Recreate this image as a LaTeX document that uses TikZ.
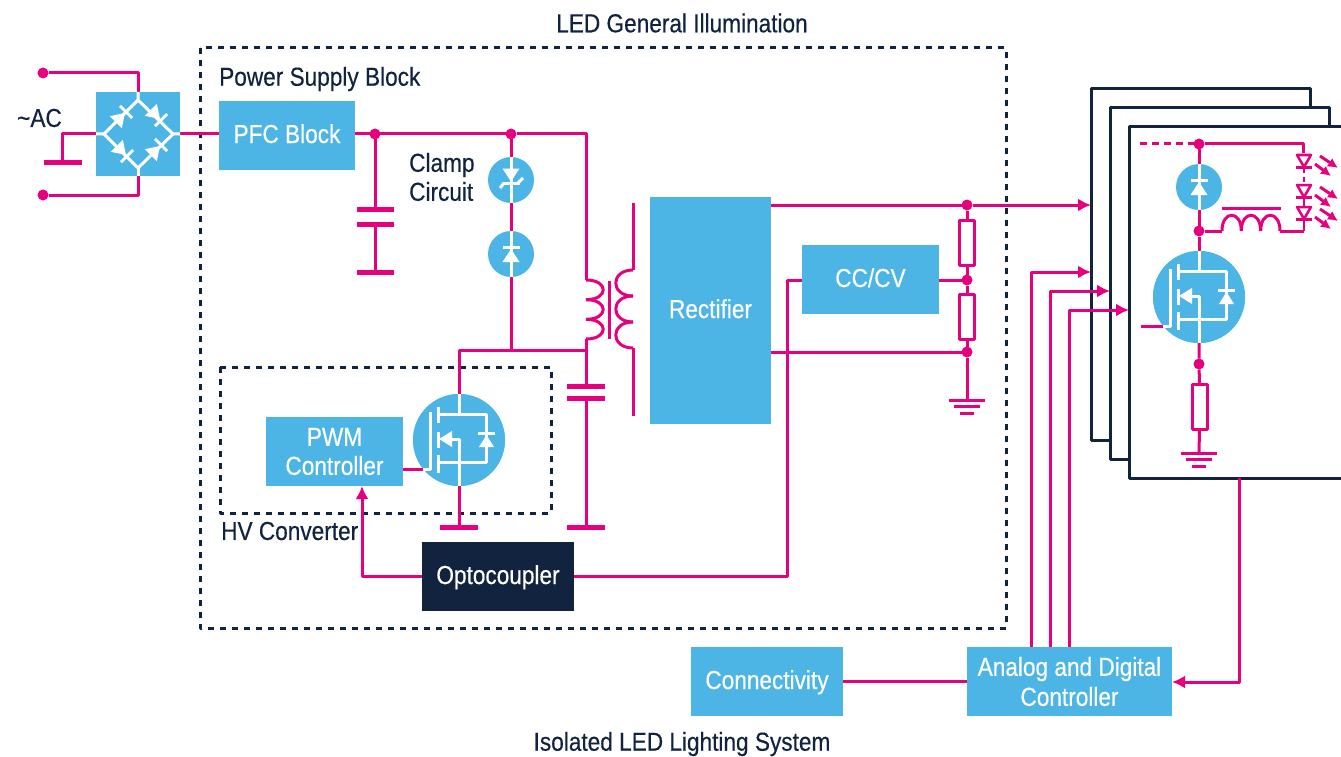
\documentclass[tikz,border=0pt]{standalone}
\usepackage{fontspec}
\setmainfont[FakeStretch=0.87,FakeBold=0.4]{Liberation Sans}
\usetikzlibrary{arrows.meta, calc}
\definecolor{stpink}{HTML}{E6007E}
\definecolor{stblue}{HTML}{4DB5E6}
\definecolor{stnavy}{HTML}{12233F}
\tikzset{
  wire/.style={stpink,line width=3pt},
  arrowwire/.style={wire,-{Latex[length=13pt,width=13pt]}},
  dashbox/.style={stnavy,line width=3pt,dash pattern=on 6pt off 6pt},
  boardline/.style={stnavy,line width=3pt},
  plate/.style={stpink,line width=5pt},
  dotnode/.style={circle,fill=stpink,minimum size=11pt,inner sep=0pt,outer sep=0pt},
  blockbox/.style={fill=stblue,text=white,align=center,inner sep=0pt,outer sep=0pt},
  oneline/.style={blockbox,text height=21pt,text depth=6pt},
  bubble/.style={circle,fill=stblue,minimum size=46pt,inner sep=0pt,outer sep=0pt},
  resbox/.style={draw=stpink,line width=3pt,fill=white,minimum width=15pt,minimum height=45pt,inner sep=0pt,outer sep=0pt},
  labeltext/.style={text=stnavy,align=left,inner sep=0pt},
  whiteline/.style={white,line width=3pt},
  mosfet/.pic={
    \fill[stblue] (0,0) circle (46);
    \draw[whiteline] (-29,-28) -- (-29,29) -- (-36,29);
    \draw[whiteline] (-21,-33) -- (-21,-17);
    \draw[whiteline] (-21,-8) -- (-21,8);
    \draw[whiteline] (-21,15) -- (-21,33);
    \draw[whiteline] (0,-46) -- (0,-26);
    \draw[whiteline] (-21,-26) -- (27,-26) -- (27,22) -- (-21,22);
    \draw[whiteline] (0,46) -- (0,-1) -- (-12,-1);
    \fill[white] (-20,-1) -- (-7,-9) -- (-7,7) -- cycle;
    \draw[whiteline] (19,-7) -- (36,-7);
    \fill[white] (27.5,-5) -- (35,7) -- (20,7) -- cycle;
  },
  diodetip/.pic={
    \fill[white] (0,0) -- (-13,-8.5) -- (-13,8.5) -- cycle;
    \draw[whiteline] (1.5,-8.5) -- (1.5,8.5);
  },
  groundsym/.pic={
    \draw[stpink,line width=3pt] (-18,0) -- (18,0);
    \draw[stpink,line width=3pt] (-13,6) -- (13,6);
    \draw[stpink,line width=3pt] (-7,13) -- (7,13);
  },
  bar/.pic={
    \draw[plate] (-19,0) -- (19,0);
  },
  every node/.style={font=\fontsize{26}{29}\selectfont}
}
\begin{document}
\begin{tikzpicture}[x=1pt,y=-1pt,line join=round]
  \useasboundingbox (0,0) rectangle (1341,757);
  \node[labeltext] (title) at (682,23) {LED General Illumination};
  \node[labeltext] (bottomtitle) at (682,744) {Isolated LED Lighting System};
  \node[labeltext,anchor=west] (supplylabel) at (219,79) {Power Supply Block};
  \node[labeltext,anchor=west] (hvlabel) at (221,531) {HV Converter};
  \node[labeltext,anchor=west] (clamplabel) at (409,177) {Clamp\\Circuit};
  \node[labeltext,anchor=west] (aclabel) at (17,118) {\textasciitilde AC};
  \draw[dashbox] (200,48) rectangle (1006,628);
  \draw[dashbox] (220,367) rectangle (551,513);

  \node[blockbox,minimum width=84pt,minimum height=84pt] (bridge) at (138,134) {};
  \node[oneline,minimum width=136pt,minimum height=69pt] (pfc) at (287,135.5) {PFC Block};
  \node[oneline,minimum width=121pt,minimum height=227pt] (rectifier) at (710.5,310.5) {Rectifier};
  \node[oneline,minimum width=137pt,minimum height=69pt] (ccv) at (870.5,279.5) {CC/CV};
  \node[blockbox,minimum width=137pt,minimum height=69pt] (pwm) at (334.5,451.5) {PWM\\Controller};
  \node[oneline,fill=stnavy,minimum width=152pt,minimum height=69pt] (opto) at (498,576.5) {Optocoupler};
  \node[oneline,minimum width=152pt,minimum height=69pt] (conn) at (767,681.5) {Connectivity};
  \node[blockbox,minimum width=205pt,minimum height=69pt] (ctrl) at (1069.5,681.5) {Analog and Digital\\[1pt]Controller};
  \node[bubble] (zener) at (511,180) {};
  \node[bubble] (clampdiode) at (511,254) {};
  \node[bubble,minimum size=92pt] (sw) at (459,440) {};
  \node[resbox] (rtop) at (967,243) {};
  \node[resbox] (rlow) at (967,316.5) {};

  \draw[boardline,fill=white] (1091,89) rectangle (1310,440);
  \node[minimum width=219pt,minimum height=351pt,inner sep=0pt,outer sep=0pt] (boarda) at (1200.5,264.5) {};
  \draw[boardline,fill=white] (1110,108) rectangle (1329,459);
  \node[minimum width=219pt,minimum height=351pt,inner sep=0pt,outer sep=0pt] (boardb) at (1219.5,283.5) {};
  \node[fill=white,minimum width=212pt,minimum height=351pt,inner sep=0pt,outer sep=0pt] (boardc) at (1235,302.5) {};
  \draw[boardline] (boardc.north east) -- (boardc.north west) -- (boardc.south west) -- (boardc.south east);

  \node[dotnode] (acup) at (43,73) {};
  \node[dotnode] (acdown) at (43,195) {};
  \node[dotnode] (capjoin) at (375,134) {};
  \node[dotnode] (clampjoin) at (511,134) {};
  \node[dotnode] (outjoin) at (967,205) {};
  \node[dotnode] (divjoin) at (967,280) {};
  \node[dotnode] (retjoin) at (967,352) {};
  \coordinate (acbar) at (62,162);
  \coordinate (pritop) at (586,280);
  \coordinate (pribot) at (586,339);
  \coordinate (midjoin) at (586,350);
  \coordinate (clampfoot) at (511,350);
  \coordinate (capfoot) at (586,527);
  \coordinate (swfoot) at (459,527);
  \coordinate (swgate) at (423,469);
  \coordinate (gnda) at (967,400);
  \coordinate (ina) at (1031,272);
  \coordinate (inb) at (1050,291);
  \coordinate (inc) at (1069,310);

  \draw[wire] (acup) -| (bridge.north);
  \draw[wire] (acdown) -| (bridge.south);
  \draw[wire] (bridge.west) -| (acbar);
  \draw[wire] (bridge.east) -- (bridge.east -| pfc.west);
  \draw[wire] (capjoin -| pfc.east) -- (clampjoin) -- (clampjoin -| pritop) -- (pritop);
  \draw[wire] (clampjoin) -- (zener.north);
  \draw[wire] (zener.south) -- (clampdiode.north);
  \draw[wire] (clampdiode.south) -- (clampfoot);
  \draw[wire] (sw.north) |- (midjoin);
  \draw[wire] (pribot) -- (midjoin) -- (586,386);
  \draw[wire] (586,398) -- (capfoot);
  \draw[wire] (sw.south) -- (swfoot);
  \draw[wire] (pwm.east |- swgate) -- (swgate);
  \draw[wire] (capjoin) -- (375,209);
  \draw[wire] (375,224) -- (375,272);
  \draw[wire] (633,203) -- (633,270);
  \draw[wire] (633,348) -- (633,416);
  \draw[wire] (609,281) -- (609,339);
  \foreach \i in {0,1,2}{
    \draw[wire] (586,280+\i*19.67) .. controls (609,280+\i*19.67) and (609,299.67+\i*19.67) .. (586,299.67+\i*19.67);
    \draw[wire] (633,270+\i*26) .. controls (610,270+\i*26) and (610,296+\i*26) .. (633,296+\i*26);
  }
  \draw[plate] (357,209) -- (394,209);
  \draw[plate] (357,224) -- (394,224);
  \draw[plate] (357,272) -- (394,272);
  \draw[plate] (44,162) -- (82,162);
  \draw[plate] (567,386) -- (605,386);
  \draw[plate] (567,398) -- (605,398);
  \pic at (capfoot) {bar};
  \pic at (swfoot) {bar};

  \draw[wire] (rectifier.east |- outjoin) -- (outjoin);
  \draw[arrowwire] (outjoin) -- (outjoin -| boarda.west);
  \draw[wire] (rectifier.east |- retjoin) -- (retjoin);
  \draw[wire] (outjoin) -- (rtop.north);
  \draw[wire] (rtop.south) -- (divjoin) -- (rlow.north);
  \draw[wire] (rlow.south) -- (retjoin) -- (gnda);
  \draw[wire] (ccv.east |- divjoin) -- (divjoin);
  \pic at (gnda) {groundsym};
  \draw[wire] (ccv.west |- divjoin) -- (787,280) -- (787,576) -- (opto.east |- 787,576);
  \draw[arrowwire] (opto.west |- 362,576) -- (362,576) -- (362,486);
  \draw[wire] (conn.east |- ctrl.west) -- (ctrl.west);
  \draw[arrowwire] (1239,478) -- (1239,682) -- (ctrl.east |- 1239,682);
  \draw[arrowwire] (ctrl.north -| inc) -- (inc) -- (inc -| boardc.west);
  \draw[arrowwire] (ctrl.north -| inb) -- (inb) -- (inb -| boardb.west);
  \draw[arrowwire] (ctrl.north -| ina) -- (ina) -- (ina -| boarda.west);

  \pic at (sw) {mosfet};
  \draw[whiteline] (bridge.north) -- (138,100) -- (173,134) -- (bridge.east);
  \draw[whiteline] (bridge.west) -- (104,134) -- (138,100);
  \draw[whiteline] (104,134) -- (138,168) -- (173,134);
  \draw[whiteline] (138,168) -- (bridge.south);
  \pic[rotate=45] at (125,113) {diodetip};
  \pic[rotate=-45] at (160,119) {diodetip};
  \pic[rotate=-45] at (126,155) {diodetip};
  \pic[rotate=45] at (160,146) {diodetip};
  \draw[whiteline] (zener.north) -- (zener.south);
  \draw[whiteline] (clampdiode.north) -- (clampdiode.south);
  \pic[rotate=-90] at (511,181.5) {diodetip};
  \draw[whiteline] (500,188) -- (504,183);
  \draw[whiteline] (518,183) -- (523,178);
  \pic[rotate=90] at (511,249) {diodetip};

  \node[dotnode] (freetop) at (1199,144) {};
  \node[dotnode] (coiljoin) at (1199,231) {};
  \node[dotnode] (sensejoin) at (1199,364) {};
  \node[bubble] (freediode) at (1199,187) {};
  \node[bubble,minimum size=92pt] (swb) at (1199,297) {};
  \node[resbox] (rsense) at (1199.5,407) {};
  \coordinate (strip) at (1303,144);
  \coordinate (coilstart) at (1222,231);
  \coordinate (coilend) at (1280,231);
  \coordinate (gndb) at (1199,453);
  \draw[wire,dash pattern=on 7pt off 5pt] (1140,144) -- (freetop);
  \draw[wire] (freetop) -- (strip) -- (1303,153);
  \draw[wire] (freetop) -- (freediode.north);
  \draw[wire] (freediode.south) -- (coiljoin) -- (swb.north);
  \draw[wire] (coiljoin) -- (coilstart);
  \foreach \i in {0,1,2}{
    \draw[wire] (1222+\i*19.33,231) .. controls (1222+\i*19.33,210) and (1241.33+\i*19.33,210) .. (1241.33+\i*19.33,231);
  }
  \draw[wire] (coilend) -- (1304,231);
  \draw[wire] (1222,208) -- (1281,208);
  \draw[wire] (swb.south) -- (sensejoin) -- (rsense.north);
  \draw[wire] (rsense.south) -- (gndb);
  \draw[wire] (1141,326) -- (1163,326);
  \pic at (gndb) {groundsym};
  \pic at (swb) {mosfet};
  \draw[whiteline] (freediode.north) -- (freediode.south);
  \pic[rotate=90] at (1199,182) {diodetip};
  \foreach \y/\d in {155/0,185/31,207/53}{
    \draw[stpink,line width=2.5pt] (1297,\y) -- (1311,\y) -- (1304,\y+12) -- cycle;
    \draw[stpink,line width=2.5pt] (1296,\y+12.5) -- (1312,\y+12.5);
    \draw[stpink,line width=3pt,-{Latex[length=10pt,width=10pt]}] (1315,164+\d) -- (1331,176+\d);
    \draw[stpink,line width=3pt,-{Latex[length=10pt,width=10pt]}] (1320,156+\d) -- (1338,168+\d);
  }
  \draw[stpink,line width=2.5pt] (1304,167) -- (1304,173);
  \draw[stpink,line width=2.5pt] (1304,177) -- (1304,182);
  \draw[stpink,line width=2.5pt] (1304,197) -- (1304,207);
  \draw[stpink,line width=2.5pt] (1304,219) -- (1304,231);
\end{tikzpicture}
\end{document}
